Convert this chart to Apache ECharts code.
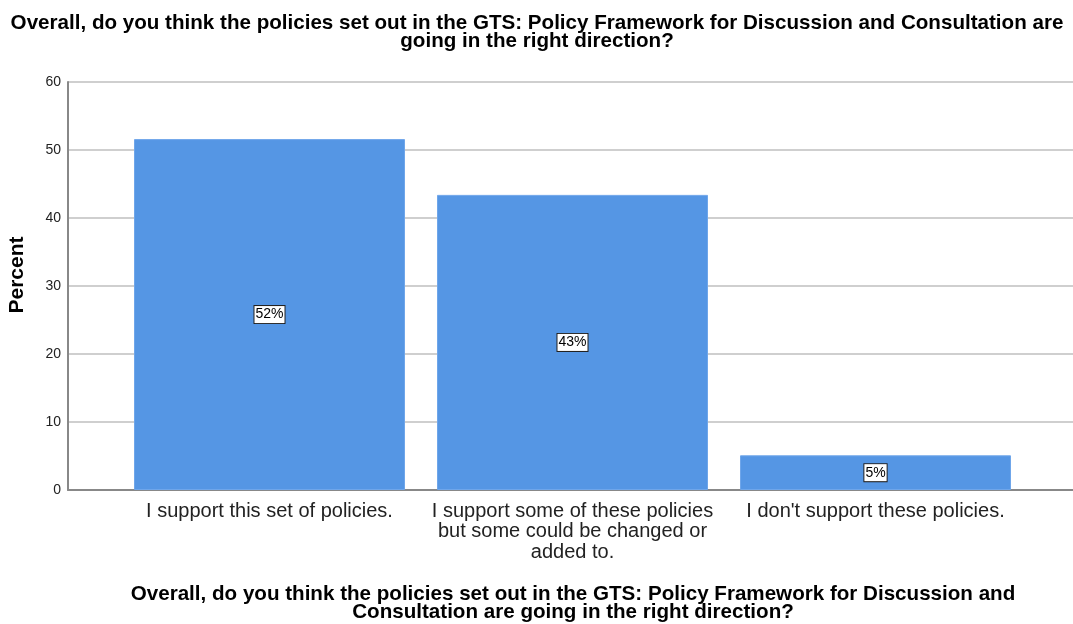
<!DOCTYPE html>
<html><head><meta charset="utf-8">
<script src="https://cdn.jsdelivr.net/npm/echarts@6/dist/echarts.min.js"></script>
<style>html,body{margin:0;padding:0;background:#fff}#c{width:1073px;height:624px}</style>
</head><body><div id="c"></div>
<script>
const categories = ["I support this set of policies.", "I support some of these policies\nbut some could be changed or\nadded to.", "I don't support these policies."];
const percents = [51.6, 43.4, 5.1];
const yTicks = [0, 10, 20, 30, 40, 50, 60];
const yAxisTitle = "Percent";
const titleText = "Overall, do you think the policies set out in the GTS: Policy Framework for Discussion and Consultation are\ngoing in the right direction?";
const xTitleText = "Overall, do you think the policies set out in the GTS: Policy Framework for Discussion and\nConsultation are going in the right direction?";

const FONT = "Liberation Sans, Arial, sans-serif";
const chart = echarts.init(document.getElementById('c'));
chart.setOption({
  animation: false,
  backgroundColor: '#fff',
  title: [{
    text: titleText, left: 532, textAlign: 'center', top: 9,
    textStyle: {fontFamily: FONT, fontSize: 20.6, fontWeight: 'bold', color: '#000', lineHeight: 18}
  }, {
    text: xTitleText, left: 568, textAlign: 'center', top: 580,
    textStyle: {fontFamily: FONT, fontSize: 20.6, fontWeight: 'bold', color: '#000', lineHeight: 18}
  }],
  graphic: [{
    type: 'text', x: 17, y: 275, rotation: Math.PI / 2,
    style: {text: yAxisTitle, font: 'bold 21px ' + FONT, fill: '#000', textAlign: 'center', textVerticalAlign: 'middle'}
  }],
  grid: [
    {left: 68, right: 0, top: 82, bottom: 134, outerBoundsMode: 'none', containLabel: false},
    {left: 118, right: 46, top: 82, bottom: 134, outerBoundsMode: 'none', containLabel: false}
  ],
  xAxis: [
    {gridIndex: 0, type: 'category', data: [''], axisLine: {show: true, lineStyle: {color: '#888', width: 2}},
     axisTick: {show: false}, axisLabel: {show: false}},
    {gridIndex: 1, type: 'category', data: categories, axisLine: {show: false}, axisTick: {show: false},
     axisLabel: {interval: 0, margin: 11, fontFamily: FONT, fontSize: 20, color: '#222', lineHeight: 20.5}}
  ],
  yAxis: [
    {gridIndex: 0, type: 'value', min: yTicks[0], max: yTicks[yTicks.length - 1], interval: 10,
     axisLine: {show: true, lineStyle: {color: '#888', width: 2}}, axisTick: {show: false},
     axisLabel: {fontFamily: FONT, fontSize: 14, color: '#222', margin: 7},
     splitLine: {show: true, lineStyle: {color: '#cfcfcf', width: 2}}},
    {gridIndex: 1, type: 'value', min: yTicks[0], max: yTicks[yTicks.length - 1], interval: 10, show: false,
     splitLine: {show: false}}
  ],
  series: [{
    type: 'bar', xAxisIndex: 1, yAxisIndex: 1, data: percents, barWidth: 271,
    itemStyle: {color: '#5596E4', borderColor: '#6fa6ea', borderWidth: 1},
    label: {show: true, position: 'inside', formatter: p => Math.round(p.value) + '%',
      fontFamily: FONT, fontSize: 14, color: '#000', backgroundColor: '#fff',
      borderColor: '#222', borderWidth: 1, padding: [2, 1, 1, 1]}
  }]
});
</script></body></html>
